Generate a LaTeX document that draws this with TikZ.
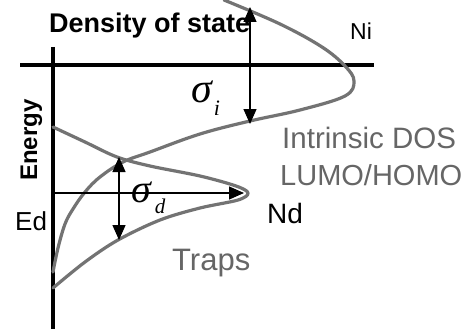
\documentclass[tikz,border=0pt]{standalone}
\usepackage{fontspec}
\setmainfont{Liberation Sans}
\newfontfamily\greekfont{Liberation Serif}
\usetikzlibrary{arrows.meta}
\definecolor{curvegray}{gray}{0.45}
\definecolor{txtgray}{gray}{0.40}
\tikzset{
  axis/.style={line width=3.2pt,draw=black},
  dos/.style={line width=3.2pt,draw=curvegray,line join=round,line cap=round},
  ar/.style={line width=1.3pt,{Triangle[length=15pt,width=13pt]}-{Triangle[length=15pt,width=13pt]}},
  arr/.style={line width=1.3pt,-{Triangle[length=15pt,width=13pt]}},
  lbl/.style={inner sep=0pt,anchor=base west},
  glbl/.style={lbl,text=txtgray},
  sig/.style={lbl,font=\greekfont\itshape}
}

\begin{document}
\begin{tikzpicture}[x=1pt,y=-1pt]
\useasboundingbox[fill=white] (0,0) rectangle (473,329);
% axes
\coordinate (ytop) at (53,47);
\coordinate (ybot) at (53,329);
\coordinate (xl) at (20,65);
\coordinate (xr) at (374,65);
\draw[axis] (ytop) -- (ybot);
\draw[axis] (xl) -- (xr);
% intrinsic DOS
\draw[dos] plot[smooth,tension=0.6] coordinates {(224,0) (280,24) (322,47) (345,66) (354,81) (345,96) (300,110) (250,121) (200,134) (150,152) (123,162) (100,177) (85,192) (73,209) (65,224) (58,248) (53,272)};
% traps
\draw[dos] plot[smooth,tension=0.55] coordinates {(53,127) (85,142) (117,157) (150,166) (200,176) (236,186) (248,193) (238,200) (200,208) (160,220) (118,240) (85,262) (53,288)};
% widths
\coordinate (sitop) at (250,7);
\coordinate (sibot) at (250,124);
\draw[ar] (sibot) -- (sitop);
\coordinate (ed) at (53,193);
\coordinate (nd) at (244,193);
\draw[arr] (ed) -- (nd);
\coordinate (sdtop) at (119,157);
\coordinate (sdbot) at (119,240);
\draw[ar] (sdbot) -- (sdtop);
% labels
\node[lbl,font=\fontsize{27}{30}\selectfont\bfseries] (dens) at (49,33) {Density of state};
\node[inner sep=0pt,anchor=base,rotate=90,font=\fontsize{24}{28}\selectfont\bfseries] (energy) at (37,140) {Energy};
\node[lbl,font=\fontsize{26}{28}\selectfont] (edl) at (15,230) {Ed};
\node[lbl,font=\fontsize{23}{26}\selectfont] (ni) at (350,40) {Ni};
\node[lbl,font=\fontsize{28}{30}\selectfont] (ndl) at (267,223) {Nd};
\node[glbl,font=\fontsize{31}{34}\selectfont] (traps) at (172,270) {Traps};
\node[glbl,font=\fontsize{29.5}{32}\selectfont] (dosa) at (282,148) {Intrinsic DOS};
\node[glbl,font=\fontsize{29}{32}\selectfont] (dosb) at (280,185) {LUMO/HOMO};
\node[sig] (sigi) at (191,102) {\fontsize{42}{42}\selectfont σ\kern2pt\raisebox{-13pt}{\fontsize{22}{22}\selectfont i}};
\node[sig] (sigd) at (131,202) {\fontsize{40}{40}\selectfont σ\kern4pt\raisebox{-11pt}{\fontsize{21}{21}\selectfont d}};
\end{tikzpicture}
\end{document}
